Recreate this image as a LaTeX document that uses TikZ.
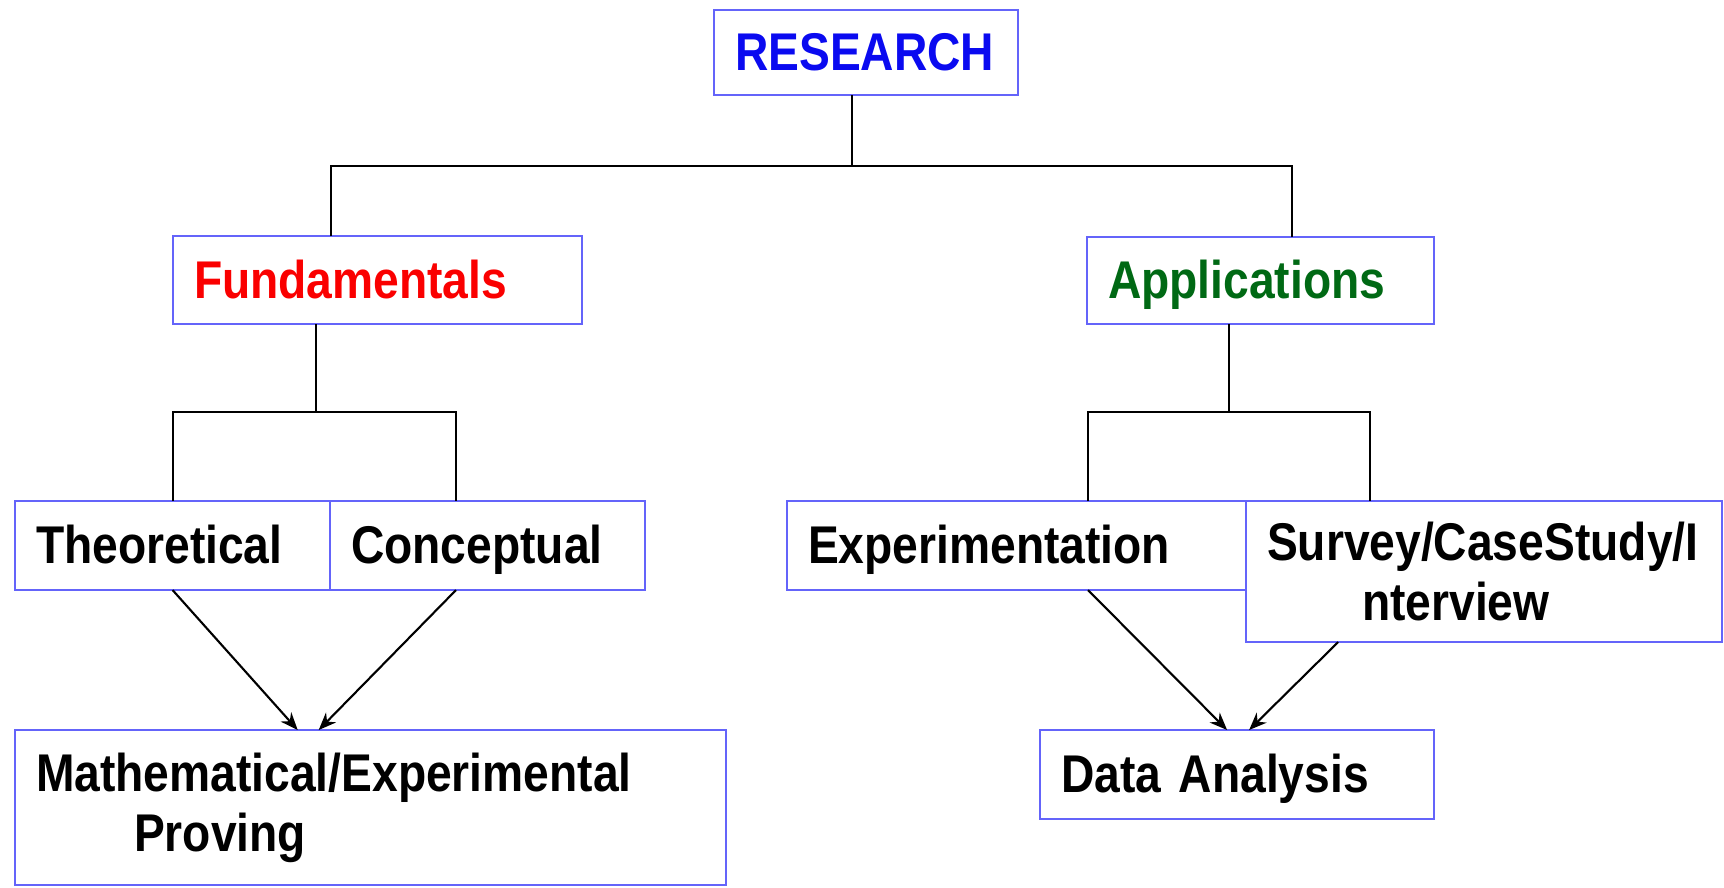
\documentclass[tikz,border=0pt]{standalone}
\usepackage{fontspec}
\setmainfont{Liberation Sans}[FakeStretch=0.87]
\usetikzlibrary{arrows.meta,calc}
\definecolor{boxline}{RGB}{100,100,250}
\definecolor{resblue}{RGB}{10,10,240}
\definecolor{fundred}{RGB}{250,0,0}
\definecolor{applgreen}{RGB}{0,105,20}
\tikzset{topic/.style={
    draw=boxline, line width=0.6pt,
    anchor=north west, outer sep=0pt,
    inner xsep=0.21cm, inner ysep=0pt,
    align=left,
    font=\fontsize{15.1pt}{17pt}\selectfont\bfseries},
  oneline/.style={text height=0.38cm, text depth=0.02cm},
  link/.style={draw=black, line width=0.6pt},
  flow/.style={link, -{Stealth[length=5pt,width=4pt]}}}

\begin{document}
\begin{tikzpicture}[x=0.01cm,y=-0.01cm]
\useasboundingbox (0,0) rectangle (1724,887);
\coordinate (R) at (714,10);
\coordinate (F) at (173,236);
\coordinate (A) at (1087,237);
\coordinate (T) at (15,501);
\coordinate (C) at (330,501);
\coordinate (E) at (787,501);
\coordinate (S) at (1246,501);
\coordinate (M) at (15,730);
\coordinate (D) at (1040,730);
% junctions of the tree lines
\coordinate (rj) at (852,166);
\coordinate (fl) at (331,166);
\coordinate (ar) at (1292,166);
\coordinate (fj) at (316,412);
\coordinate (cj) at (456,412);
\coordinate (aj) at (1229,412);
\coordinate (ej) at (1088,412);
\coordinate (sj) at (1370,412);

\node[topic,oneline,text=resblue,text width=2.62cm,minimum height=0.85cm] (research) at (R) {RESEARCH};
\node[topic,oneline,text=fundred,text width=3.67cm,minimum height=0.88cm] (fund) at (F) {Fundamentals};
\node[topic,oneline,text=applgreen,text width=3.05cm,minimum height=0.87cm] (appl) at (A) {Applications};
\node[topic,oneline,text width=2.73cm,minimum height=0.89cm] (theo) at (T) {Theoretical};
\node[topic,oneline,text width=2.73cm,minimum height=0.89cm] (conc) at (C) {Conceptual};
\node[topic,oneline,text width=4.17cm,minimum height=0.89cm] (expe) at (E) {Experimentation};
\node[topic,text width=4.34cm,minimum height=1.41cm] (surv) at (S) {Survey/CaseStudy/I\\\hspace*{0.95cm}nterview};
\node[topic,text width=6.69cm,minimum height=1.55cm] (math) at (M) {Mathematical/Experimental\\\hspace*{0.98cm}Proving};
\node[topic,oneline,text width=3.52cm,minimum height=0.89cm] (data) at (D) {Data Analysis};

\draw[link] (research.south -| rj) -- (rj);
\draw[link] (fund.north -| fl) |- (rj) -| (appl.north -| ar);
\draw[link] (fund.south -| fj) -- (fj);
\draw[link] (theo.north) |- (cj) -- (conc.north -| cj);
\draw[link] (appl.south -| aj) -- (aj);
\draw[link] (expe.north -| ej) |- (sj) -- (surv.north -| sj);

\draw[flow] (theo.south) -- ($(math.north)+(-73,0)$);
\draw[flow] (conc.south -| cj) -- ($(math.north)+(-52,0)$);
\draw[flow] (expe.south -| ej) -- ($(data.north)+(-10,0)$);
\draw[flow] ($(surv.south)+(-146,0)$) -- ($(data.north)+(12,0)$);
\end{tikzpicture}
\end{document}
